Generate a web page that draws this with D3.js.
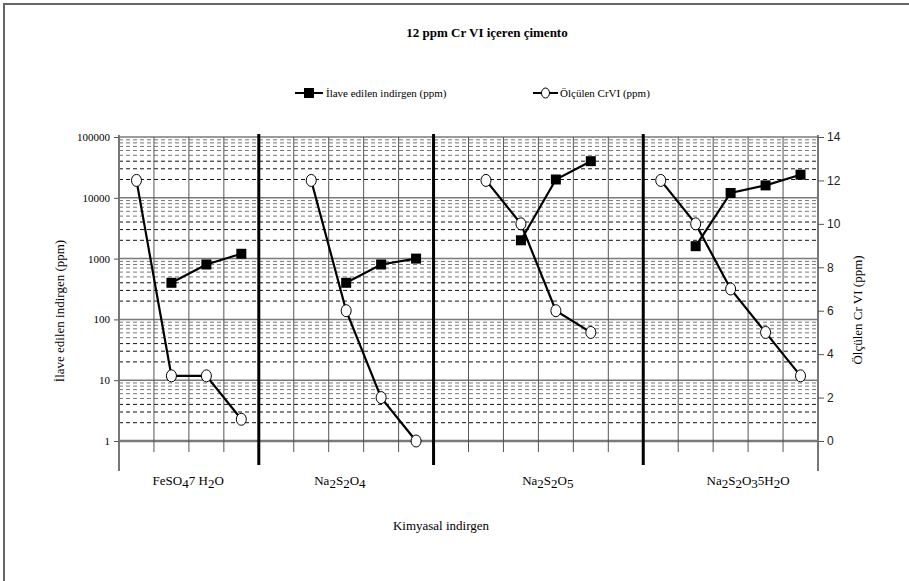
<!DOCTYPE html>
<html>
<head>
<meta charset="utf-8">
<script src="https://cdn.jsdelivr.net/npm/d3@7"></script>
<style>
  body { margin: 0; background: #fff; }
  svg { display: block; }
  .serif { font-family: "Liberation Serif", "Times New Roman", serif; }
</style>
</head>
<body>
<div id="chart"></div>
<script>
/* categories and values, one slot per x position (null = no point) */
const NUMBER_OF_SLOTS = 20;
const groupBreaks = [0, 4, 9, 15, 20];
const groupLabels = [
  [["FeSO", 0], ["4", 1], ["7 H", 0], ["2", 1], ["O", 0]],
  [["Na", 0], ["2", 1], ["S", 0], ["2", 1], ["O", 0], ["4", 1]],
  [["Na", 0], ["2", 1], ["S", 0], ["2", 1], ["O", 0], ["5", 1]],
  [["Na", 0], ["2", 1], ["S", 0], ["2", 1], ["O", 0], ["3", 1], ["5H", 0], ["2", 1], ["O", 0]]
];
const labelSlot = [1.98, 6.32, 12.27, 18.0];

const indirgen = [null, 400, 800, 1200, null, null, 400, 800, 1000, null,
                  null, 2000, 20000, 40000, null, null, 1600, 12000, 16000, 24000];
const crvi = [12, 3, 3, 1, null, 12, 6, 2, 0, null,
              12, 10, 6, 5, null, 12, 10, 7, 5, 3];

const leftTicks = [1, 10, 100, 1000, 10000, 100000];
const rightTicks = [0, 2, 4, 6, 8, 10, 12, 14];

const title = "12 ppm Cr VI içeren çimento";
const legendSquare = "İlave edilen indirgen (ppm)";
const legendCircle = "Ölçülen CrVI (ppm)";
const leftTitle = "İlave edilen indirgen (ppm)";
const rightTitle = "Ölçülen Cr VI (ppm)";
const xTitle = "Kimyasal indirgen";

const W = 909, H = 581;
const plot = { left: 119, right: 818, top: 137, bottom: 441 };

const svg = d3.select("#chart").append("svg")
  .attr("width", W).attr("height", H);

// frame (top and left edges only are visible)
svg.append("path")
  .attr("d", `M4,${H} V4 H${W}`)
  .attr("fill", "none").attr("stroke", "#666").attr("stroke-width", 2);

const x = d3.scaleLinear().domain([0, NUMBER_OF_SLOTS]).range([plot.left, plot.right]);
const yL = d3.scaleLog().domain([1, 100000]).range([plot.bottom, plot.top]);
const yR = d3.scaleLinear().domain([0, 14]).range([plot.bottom, plot.top]);

const grid = svg.append("g");

// minor horizontal dashed lines
const minor = [];
leftTicks.slice(0, -1).forEach(d => d3.range(2, 10).forEach(k => minor.push([d * k, k])));
grid.selectAll("line.minor").data(minor).enter().append("line")
  .attr("x1", plot.left).attr("x2", plot.right)
  .attr("y1", d => yL(d[0])).attr("y2", d => yL(d[0]))
  .attr("stroke", d => d[1] <= 4 ? "#111" : "#777")
  .attr("stroke-width", 1)
  .attr("stroke-dasharray", "4,3");

// major horizontal lines
grid.selectAll("line.major").data(leftTicks).enter().append("line")
  .attr("x1", plot.left).attr("x2", plot.right)
  .attr("y1", d => yL(d)).attr("y2", d => yL(d))
  .attr("stroke", "#7a7a7a")
  .attr("stroke-width", d => d === 1 ? 2.5 : 1.5);

// vertical slot lines
grid.selectAll("line.vert").data(d3.range(1, NUMBER_OF_SLOTS)).enter().append("line")
  .attr("x1", d => x(d)).attr("x2", d => x(d))
  .attr("y1", plot.top).attr("y2", plot.bottom + 11)
  .attr("stroke", "#555").attr("stroke-width", 1);

// thick group separators
grid.selectAll("line.sep").data(groupBreaks.slice(1, -1)).enter().append("line")
  .attr("x1", d => x(d)).attr("x2", d => x(d))
  .attr("y1", plot.top - 3).attr("y2", plot.bottom + 24)
  .attr("stroke", "#000").attr("stroke-width", 3);

// axis lines
[plot.left, plot.right].forEach(px => {
  svg.append("line")
    .attr("x1", px).attr("x2", px)
    .attr("y1", plot.top - 2).attr("y2", plot.bottom + 30)
    .attr("stroke", "#777").attr("stroke-width", 2);
});

// left axis
const leftAxis = svg.append("g")
  .attr("transform", `translate(${plot.left},0)`)
  .call(d3.axisLeft(yL).tickValues(leftTicks).tickFormat(d3.format("d")).tickSize(5).tickPadding(4));
leftAxis.select(".domain").remove();
leftAxis.selectAll("line").attr("stroke", "#555");
leftAxis.selectAll("text")
  .attr("font-family", "Liberation Serif, Times New Roman, serif")
  .attr("font-size", 11).attr("fill", "#000");

// right axis
const rightAxis = svg.append("g")
  .attr("transform", `translate(${plot.right},0)`)
  .call(d3.axisRight(yR).tickValues(rightTicks).tickSize(6).tickPadding(3));
rightAxis.select(".domain").remove();
rightAxis.selectAll("line").attr("stroke", "#555");
rightAxis.selectAll("text")
  .attr("font-family", "Liberation Sans, Arial, sans-serif")
  .attr("font-size", 12).attr("fill", "#222");

// series
const lineSq = d3.line().x(d => x(d.i + 0.5)).y(d => yL(d.v));
const lineCi = d3.line().x(d => x(d.i + 0.5)).y(d => yR(d.v));

function groupSegments(values) {
  return groupBreaks.slice(0, -1).map((start, g) =>
    d3.range(start, groupBreaks[g + 1])
      .filter(i => values[i] != null)
      .map(i => ({ i, v: values[i] })));
}

const sqSegs = groupSegments(indirgen);
const ciSegs = groupSegments(crvi);

svg.selectAll("path.sq").data(sqSegs).enter().append("path")
  .attr("d", lineSq).attr("fill", "none")
  .attr("stroke", "#000").attr("stroke-width", 2.2);
svg.selectAll("path.ci").data(ciSegs).enter().append("path")
  .attr("d", lineCi).attr("fill", "none")
  .attr("stroke", "#000").attr("stroke-width", 2.2);

svg.selectAll("rect.sq").data(sqSegs.flat()).enter().append("rect")
  .attr("x", d => x(d.i + 0.5) - 5).attr("y", d => yL(d.v) - 5)
  .attr("width", 10).attr("height", 10).attr("fill", "#000");

svg.selectAll("ellipse.ci").data(ciSegs.flat()).enter().append("ellipse")
  .attr("cx", d => x(d.i + 0.5)).attr("cy", d => yR(d.v))
  .attr("rx", 5).attr("ry", 6)
  .attr("fill", "#fff").attr("stroke", "#000").attr("stroke-width", 1);

// category labels with subscripts
groupLabels.forEach((parts, g) => {
  const t = svg.append("text").attr("class", "serif")
    .attr("x", x(labelSlot[g])).attr("y", 485)
    .attr("text-anchor", "middle").attr("font-size", 13);
  parts.forEach(([s, sub]) => {
    t.append("tspan").text(s)
      .attr("baseline-shift", sub ? "-3" : null);
  });
});

// titles
svg.append("text").attr("class", "serif")
  .attr("x", 487).attr("y", 37).attr("text-anchor", "middle")
  .attr("font-size", 13).attr("font-weight", "bold").text(title);

svg.append("text").attr("class", "serif")
  .attr("x", 441).attr("y", 530).attr("text-anchor", "middle")
  .attr("font-size", 13).text(xTitle);

svg.append("text").attr("class", "serif")
  .attr("transform", `translate(64,311) rotate(-90)`)
  .attr("text-anchor", "middle").attr("font-size", 13).text(leftTitle);

svg.append("text").attr("class", "serif")
  .attr("transform", `translate(862,310) rotate(-90)`)
  .attr("text-anchor", "middle").attr("font-size", 13).text(rightTitle);

// legend
const leg1 = svg.append("g").attr("transform", "translate(295,93)");
leg1.append("line").attr("x1", 0).attr("x2", 28).attr("stroke", "#000").attr("stroke-width", 2);
leg1.append("rect").attr("x", 9).attr("y", -5).attr("width", 10).attr("height", 10).attr("fill", "#000");
leg1.append("text").attr("class", "serif").attr("x", 31).attr("y", 4)
  .attr("font-size", 11).text(legendSquare);

const leg2 = svg.append("g").attr("transform", "translate(533,93)");
leg2.append("line").attr("x1", 0).attr("x2", 25).attr("stroke", "#000").attr("stroke-width", 2);
leg2.append("ellipse").attr("cx", 12.5).attr("cy", 0).attr("rx", 4).attr("ry", 5)
  .attr("fill", "#fff").attr("stroke", "#000");
leg2.append("text").attr("class", "serif").attr("x", 27).attr("y", 4)
  .attr("font-size", 11).text(legendCircle);
</script>
</body>
</html>
